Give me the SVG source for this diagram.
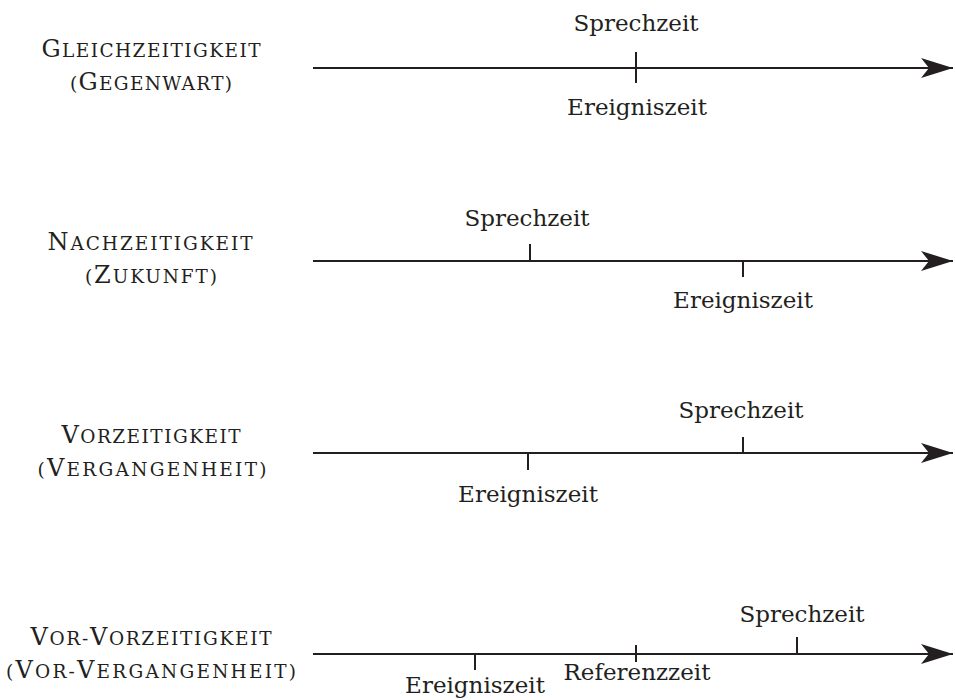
<svg xmlns="http://www.w3.org/2000/svg" width="955" height="700" viewBox="0 0 955 700">
<style>
.t{font-family:"DejaVu Serif","Liberation Serif",serif;font-size:23px;fill:#231f20;text-anchor:middle}
.sc{font-family:"DejaVu Serif","Liberation Serif",serif;font-size:18.5px;fill:#231f20;text-anchor:middle}
.b{font-size:24px}
.ax{stroke:#231f20;stroke-width:2;fill:none}
.tk{stroke:#231f20;stroke-width:2}
</style>
<defs>
<marker id="ah" markerUnits="userSpaceOnUse" markerWidth="34" markerHeight="24" viewBox="-33 -12 34 24" refX="0" refY="0" orient="auto">
<path d="M0,0 L-32,-10 L-24,0 L-32,10 Z" fill="#231f20"/>
</marker>
</defs>
<g id="connectors">
<line class="ax" x1="313" y1="68" x2="953" y2="68" marker-end="url(#ah)"/>
<line class="ax" x1="313" y1="261" x2="953" y2="261" marker-end="url(#ah)"/>
<line class="ax" x1="313" y1="453" x2="953" y2="453" marker-end="url(#ah)"/>
<line class="ax" x1="313" y1="654" x2="953" y2="654" marker-end="url(#ah)"/>
</g>
<g id="row1">
<text class="sc" x="151" y="57" textLength="219" lengthAdjust="spacing"><tspan class="b">G</tspan>LEICHZEITIGKEIT</text>
<text class="sc" x="151" y="90" textLength="162" lengthAdjust="spacing">(<tspan class="b">G</tspan>EGENWART)</text>
<line class="tk" x1="636" y1="52" x2="636" y2="83"/>
<text class="t" x="636" y="31">Sprechzeit</text>
<text class="t" x="637" y="115">Ereigniszeit</text>
</g>
<g id="row2">
<text class="sc" x="150" y="250" textLength="205" lengthAdjust="spacing"><tspan class="b">N</tspan>ACHZEITIGKEIT</text>
<text class="sc" x="151" y="283" textLength="132" lengthAdjust="spacing">(<tspan class="b">Z</tspan>UKUNFT)</text>
<line class="tk" x1="530" y1="244" x2="530" y2="261"/>
<line class="tk" x1="743" y1="261" x2="743" y2="277"/>
<text class="t" x="527" y="226">Sprechzeit</text>
<text class="t" x="743" y="308">Ereigniszeit</text>
</g>
<g id="row3">
<text class="sc" x="151" y="443" textLength="179" lengthAdjust="spacing"><tspan class="b">V</tspan>ORZEITIGKEIT</text>
<text class="sc" x="152" y="476" textLength="229" lengthAdjust="spacing">(<tspan class="b">V</tspan>ERGANGENHEIT)</text>
<line class="tk" x1="743" y1="437" x2="743" y2="453"/>
<line class="tk" x1="528" y1="453" x2="528" y2="470"/>
<text class="t" x="741" y="418">Sprechzeit</text>
<text class="t" x="528" y="502">Ereigniszeit</text>
</g>
<g id="row4">
<text class="sc" x="151" y="645" textLength="241" lengthAdjust="spacing"><tspan class="b">V</tspan>OR-<tspan class="b">V</tspan>ORZEITIGKEIT</text>
<text class="sc" x="151" y="678" textLength="290" lengthAdjust="spacing">(<tspan class="b">V</tspan>OR-<tspan class="b">V</tspan>ERGANGENHEIT)</text>
<line class="tk" x1="797" y1="637" x2="797" y2="654"/>
<line class="tk" x1="636" y1="645" x2="636" y2="662"/>
<line class="tk" x1="475" y1="654" x2="475" y2="670"/>
<text class="t" x="802" y="622">Sprechzeit</text>
<text class="t" x="637" y="680">Referenzzeit</text>
<text class="t" x="475" y="693">Ereigniszeit</text>
</g>
</svg>
